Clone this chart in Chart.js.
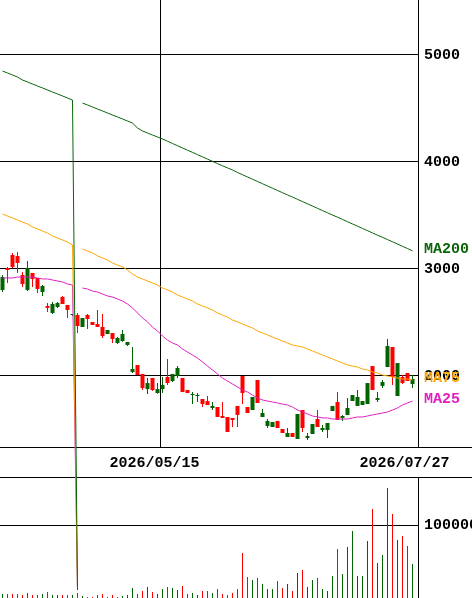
<!DOCTYPE html>
<html>
<head>
<meta charset="utf-8">
<script src="https://cdn.jsdelivr.net/npm/chart.js@4.4.1/dist/chart.umd.min.js"></script>
<style>
  html, body { margin: 0; padding: 0; background: #fff; }
</style>
</head>
<body>
<canvas id="chart" width="472" height="598"></canvas>
<script>
// Datos del gráfico (precios en yenes)
const openP = [2925, 2991, 3019, 3056, 2860, 3009, 2907, 2813, 2841, 2636,
  2673, 2682, 2673, 2617, 2570, 2467, 2542, 2533, 2477, 2458,
  2374, 2430, 2346, 2355, 2392, 2318, 2065, 2009, 1888, 1934,
  1869, 1878, 1916, 1934, 2019, 2075, 1850, 1841, 1832, 1822,
  1738, 1729, 1720, 1617, 1608, 1477, 1589, 1636, 1841, 1654,
  1804, 1748, 1654, 1580, 1570, 1514, 1467, 1467, 1430, 1645,
  1514, 1439, 1551, 1523, 1514, 1561, 1720, 1589, 1626, 1701,
  1822, 1804, 1766, 1934, 1869, 1794, 1944, 2280, 1991, 2121,
  1934, 1953, 1972];
const highP = [2944, 3019, 3149, 3159, 2972, 3075, 2963, 2916, 2850, 2682,
  2692, 2692, 2748, 2664, 2580, 2589, 2542, 2579, 2505, 2617,
  2579, 2430, 2402, 2365, 2430, 2318, 2271, 2103, 2019, 1981,
  1981, 1934, 1991, 2159, 2019, 2093, 1981, 1869, 1850, 1841,
  1785, 1813, 1757, 1710, 1757, 1617, 1608, 1720, 2000, 1710,
  1804, 1963, 1692, 1598, 1570, 1580, 1505, 1514, 1467, 1645,
  1682, 1467, 1551, 1682, 1542, 1561, 1720, 1850, 1636, 1794,
  1822, 1869, 1766, 1934, 2093, 1850, 1963, 2346, 2271, 2121,
  2009, 2028, 2009];
const lowP = [2785, 2869, 3010, 2963, 2832, 2794, 2832, 2776, 2748, 2598,
  2579, 2636, 2673, 2542, 2561, 2402, 2458, 2439, 2477, 2458,
  2355, 2392, 2308, 2300, 2320, 2280, 2028, 2009, 1869, 1832,
  1860, 1835, 1841, 1916, 1944, 1981, 1850, 1841, 1738, 1757,
  1710, 1729, 1682, 1617, 1608, 1477, 1523, 1523, 1738, 1654,
  1682, 1748, 1617, 1514, 1523, 1514, 1467, 1430, 1430, 1411,
  1477, 1402, 1458, 1523, 1477, 1420, 1673, 1589, 1580, 1636,
  1766, 1720, 1729, 1738, 1869, 1757, 1888, 2084, 1916, 1813,
  1925, 1953, 1888];
const closeP = [2804, 3009, 3131, 3121, 2944, 2804, 2963, 2916, 2785, 2654,
  2589, 2645, 2738, 2664, 2570, 2570, 2458, 2570, 2505, 2486,
  2458, 2392, 2402, 2308, 2327, 2290, 2037, 2103, 2019, 1878,
  1981, 1841, 1878, 1991, 1953, 2000, 1981, 1869, 1822, 1813,
  1785, 1766, 1701, 1710, 1626, 1617, 1608, 1720, 2000, 1710,
  1682, 1963, 1617, 1533, 1523, 1580, 1505, 1430, 1467, 1411,
  1682, 1420, 1458, 1598, 1495, 1495, 1673, 1757, 1608, 1636,
  1766, 1720, 1729, 1738, 2093, 1776, 1907, 2084, 2271, 1813,
  1991, 2028, 1925];
const volume = [5500, 5500, 5500, 5500, 4100, 6800, 4100, 4100, 5500, 8200,
  4100, 4100, 4100, 4100, 4100, 6800, 2700, 1400, 1400, 4100,
  5500, 1400, 4100, 1400, 2700, 4100, 13700, 5500, 9600, 15100,
  8200, 5500, 12300, 15100, 13700, 11000, 16400, 5500, 6800, 4100,
  9600, 9600, 6800, 12300, 5500, 4100, 6800, 12300, 61600, 28800,
  24700, 27400, 19200, 12300, 12300, 23300, 13700, 19200, 9600, 34200,
  38400, 15100, 24700, 27400, 12300, 9600, 30100, 67100, 32900, 69900,
  91800, 30100, 30100, 78100, 121900, 48000, 58900, 150700, 115100, 79500,
  84900, 71200, 46600];
const ma200 = [4850, 4832, 4813, 4794, 4766, 4748, 4729, 4710, 4692, 4673,
  4654, 4636, 4617, 4598, 4579, 0, 4551, 4533, 4514, 4495,
  4477, 4458, 4439, 4421, 4402, 4383, 4364, 4318, 4290, 4271,
  4252, 4234, 4215, 4194, 4173, 4152, 4131, 4110, 4090, 4069,
  4048, 4027, 4006, 3985, 3964, 3945, 3926, 3902, 3881, 3860,
  3839, 3818, 3797, 3776, 3755, 3734, 3713, 3692, 3672, 3651,
  3630, 3609, 3588, 3567, 3546, 3525, 3504, 3484, 3463, 3442,
  3421, 3400, 3379, 3358, 3337, 3316, 3296, 3275, 3254, 3233,
  3212, 3191, 3170];
const ma75 = [3514, 3495, 3477, 3458, 3439, 3421, 3393, 3374, 3355, 3336,
  3308, 3290, 3271, 3252, 3224, 0, 3187, 3168, 3150, 3122,
  3103, 3084, 3056, 3037, 3019, 2991, 2953, 2925, 2907, 2888,
  2869, 2850, 2822, 2804, 2785, 2757, 2738, 2720, 2701, 2673,
  2654, 2636, 2617, 2589, 2570, 2551, 2523, 2505, 2486, 2467,
  2449, 2421, 2402, 2383, 2364, 2346, 2327, 2308, 2290, 2280,
  2271, 2252, 2234, 2215, 2196, 2178, 2159, 2140, 2121, 2103,
  2093, 2084, 2065, 2056, 2037, 2028, 2009, 2000, 1991, 1981,
  1972, 1972, 1963];
const ma25 = [2916, 2916, 2916, 2925, 2925, 2925, 2925, 2916, 2907, 2907,
  2897, 2888, 2879, 2860, 2850, 0, 2822, 2813, 2794, 2785,
  2766, 2748, 2738, 2720, 2701, 2673, 2636, 2589, 2542, 2505,
  2458, 2421, 2374, 2336, 2308, 2290, 2252, 2224, 2196, 2168,
  2131, 2093, 2056, 2019, 1981, 1953, 1925, 1897, 1869, 1850,
  1822, 1794, 1776, 1766, 1757, 1748, 1738, 1729, 1710, 1682,
  1664, 1645, 1626, 1617, 1608, 1608, 1598, 1598, 1598, 1598,
  1608, 1617, 1617, 1626, 1636, 1645, 1654, 1664, 1682, 1701,
  1729, 1748, 1766];

// Etiquetas de ejes
const tickDates = ['2026/05/15', '2026/07/27'];
const tickIdx = [30, 80];
const priceTicks = [2000, 3000, 4000, 5000];
const volTicks = [100000];
const dividerAt = 32;

const UP = '#ff0000';
const DOWN = '#006400';
const FONT_FAMILY = '"Liberation Mono", "DejaVu Sans Mono", monospace';
const FONT = 'bold 15px ' + FONT_FAMILY;

const candleColor = closeP.map((c, i) => c > openP[i] ? UP : DOWN);
const dropIdx = ma25.indexOf(0);

// MA200 primero para que quede encima
const maLines = [
  { label: 'MA200', data: ma200, color: '#0a640a' },
  { label: 'MA75', data: ma75, color: '#ffa500' },
  { label: 'MA25', data: ma25, color: '#e020c0' },
];

const fixAxis = (scale) => {
  scale.width = 54;
  scale.paddingTop = 0;
  scale.paddingBottom = 0;
};

// Línea divisoria, fechas y nombres de medias
const extras = {
  id: 'extras',
  beforeDatasetsDraw(chart) {
    const { ctx, scales: { x, y } } = chart;
    const px = Math.round(x.getPixelForValue(dividerAt - 0.5)) + 0.5;
    ctx.save();
    ctx.strokeStyle = '#000';
    ctx.lineWidth = 1;
    ctx.beginPath();
    ctx.moveTo(px, y.top);
    ctx.lineTo(px, y.bottom);
    ctx.stroke();
    ctx.restore();
  },
  afterDraw(chart) {
    const { ctx, chartArea, scales: { x, y, yGap } } = chart;
    ctx.save();
    ctx.font = FONT;
    ctx.textBaseline = 'middle';
    ctx.textAlign = 'center';
    ctx.fillStyle = '#000';
    tickDates.forEach((d, i) => {
      ctx.fillText(d, x.getPixelForValue(tickIdx[i]) + 2, yGap.getPixelForValue(0.5));
    });
    ctx.textAlign = 'left';
    maLines.forEach(m => {
      ctx.fillStyle = m.color;
      ctx.fillText(m.label, chartArea.right + 6, y.getPixelForValue(m.data[m.data.length - 1]) - 2);
    });
    ctx.restore();
  }
};

const chart = new Chart(document.getElementById('chart').getContext('2d'), {
  type: 'bar',
  data: {
    datasets: [
      ...maLines.map(m => ({
        type: 'line',
        label: m.label,
        data: m.data.map((v, i) => ({ x: i, y: v })),
        borderColor: m.color,
        borderWidth: 1,
        pointRadius: 0,
        tension: 0,
        clip: false,
        yAxisID: 'y',
        order: 0,
        segment: {
          borderColor: ctx => ctx.p0DataIndex === dropIdx ? 'rgba(0,0,0,0)' : m.color,
        },
      })),
      {
        label: 'Cuerpo',
        data: openP.map((o, i) => ({ x: i, y: [Math.min(o, closeP[i]), Math.max(o, closeP[i])] })),
        backgroundColor: candleColor,
        barThickness: 4,
        minBarLength: 1,
        grouped: false,
        inflateAmount: 0,
        yAxisID: 'y',
        order: 1,
      },
      {
        label: 'Mecha',
        data: highP.map((h, i) => ({ x: i, y: [lowP[i], h] })),
        backgroundColor: candleColor,
        barThickness: 1,
        grouped: false,
        inflateAmount: 0,
        yAxisID: 'y',
        order: 2,
      },
      {
        label: 'Volumen',
        data: volume.map((v, i) => ({ x: i, y: v })),
        backgroundColor: candleColor,
        barThickness: 1,
        grouped: false,
        inflateAmount: 0,
        yAxisID: 'yVol',
        order: 3,
      },
    ],
  },
  options: {
    responsive: false,
    animation: false,
    events: [],
    layout: { padding: 0 },
    plugins: { legend: { display: false }, tooltip: { enabled: false } },
    scales: {
      x: { type: 'linear', min: -0.5, max: 83.1, offset: false, display: false },
      y: {
        type: 'linear',
        position: 'right',
        stack: 'panel',
        stackWeight: 448,
        min: 1327,
        max: 5514,
        afterBuildTicks: s => { s.ticks = priceTicks.map(v => ({ value: v })); },
        afterFit: fixAxis,
        grid: { color: '#000', lineWidth: 1, drawTicks: false },
        border: { display: true, color: '#000', width: 1 },
        ticks: { color: '#000', padding: 6, font: { family: FONT_FAMILY, size: 15, weight: 'bold' }, callback: v => String(v) },
      },
      yGap: {
        type: 'linear',
        position: 'right',
        stack: 'panel',
        stackWeight: 30,
        min: 0,
        max: 1,
        afterBuildTicks: s => { s.ticks = [{ value: 0 }, { value: 1 }]; },
        afterFit: fixAxis,
        grid: { color: '#000', lineWidth: 1, drawTicks: true, tickLength: 54 },
        border: { display: false },
        ticks: { display: false },
      },
      yVol: {
        type: 'linear',
        position: 'right',
        stack: 'panel',
        stackWeight: 120,
        min: 0,
        max: 164384,
        afterBuildTicks: s => { s.ticks = volTicks.map(v => ({ value: v })); },
        afterFit: fixAxis,
        grid: { color: '#000', lineWidth: 1, drawTicks: false },
        border: { display: true, color: '#000', width: 1 },
        ticks: { color: '#000', padding: 6, font: { family: FONT_FAMILY, size: 15, weight: 'bold' }, callback: v => String(v) },
      },
    },
  },
  plugins: [extras],
});
</script>
</body>
</html>
